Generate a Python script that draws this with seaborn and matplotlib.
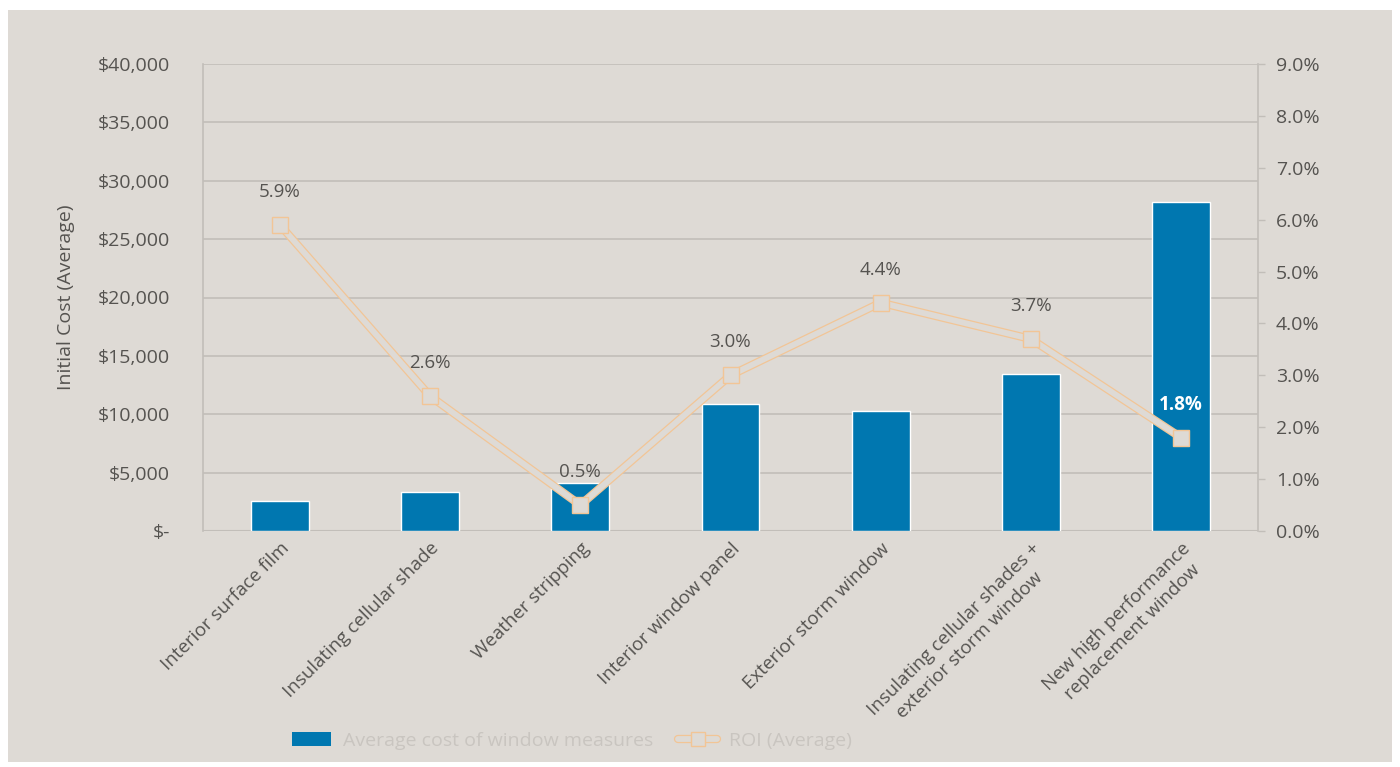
import matplotlib
matplotlib.use("Agg")
import matplotlib.pyplot as plt
import matplotlib.patheffects as pe
from matplotlib.patches import Rectangle, Patch
from matplotlib.lines import Line2D
from matplotlib.ticker import FuncFormatter, MultipleLocator
import numpy as np
import pandas as pd
import seaborn as sns

# Window retrofit measures: average upfront cost and average ROI
categories = [
    "Interior surface film",
    "Insulating cellular shade",
    "Weather stripping",
    "Interior window panel",
    "Exterior storm window",
    "Insulating cellular shades +\nexterior storm window",
    "New high performance\nreplacement window",
]
avg_cost = [2600, 3350, 4100, 10900, 10300, 13450, 28200]
roi_pct = [5.9, 2.6, 0.5, 3.0, 4.4, 3.7, 1.8]
cost_ticks = [0, 5000, 10000, 15000, 20000, 25000, 30000, 35000, 40000]

BG = "#dedad5"
BAR = "#0077b0"
ROI_EDGE = "#f2c596"
TXT = "#555350"
GRID = "#c2beb9"

sns.set_theme(style="white")
plt.rcParams["font.family"] = ["Open Sans", "DejaVu Sans"]

fig = plt.figure(figsize=(14, 7.67), dpi=100)
fig.patch.set_facecolor("white")
fig.patches.append(Rectangle((8 / 1400, 5 / 767), 1384 / 1400, 752 / 767,
                             transform=fig.transFigure, facecolor=BG,
                             edgecolor="none", zorder=-10))

ax = fig.add_axes([203 / 1400, 1 - 531 / 767, 1055 / 1400, 467 / 767])
ax.set_facecolor("none")

df = pd.DataFrame({"measure": categories, "cost": avg_cost})
sns.barplot(data=df, x="measure", y="cost", color=BAR, saturation=1,
            width=0.385, ax=ax, zorder=3)

ax.set_ylim(0, 40000)
ax.set_yticks(cost_ticks)
ax.yaxis.set_major_formatter(FuncFormatter(
    lambda v, _: "$-" if v == 0 else f"${v:,.0f}"))
ax.grid(axis="y", color=GRID, linewidth=1.2, zorder=0)
ax.set_axisbelow(True)
for s in ["top", "right", "bottom"]:
    ax.spines[s].set_visible(False)
ax.spines["left"].set_color(GRID)
ax.spines["left"].set_linewidth(1.2)
ax.tick_params(axis="y", length=0, pad=24, labelsize=14, labelcolor=TXT)
ax.tick_params(axis="x", length=0, pad=6, labelsize=13.5, labelcolor=TXT)
ax.set_xticks(range(len(categories)))
ax.set_xticklabels(categories, rotation=45, ha="right", rotation_mode="anchor",
                   multialignment="center", linespacing=1.3)
ax.set_xlabel("")
ax.set_ylabel("Initial Cost (Average)", fontsize=14, color=TXT, labelpad=16)
ax.axhline(0, color=GRID, linewidth=1.5, zorder=1)

ax2 = ax.twinx()
ax2.set_ylim(0, 9)
ax2.yaxis.set_major_locator(MultipleLocator(1))
ax2.yaxis.set_major_formatter(FuncFormatter(lambda v, _: f"{v:.1f}%"))
ax2.tick_params(axis="y", length=5, width=1, color=GRID, pad=8,
                labelsize=14, labelcolor=TXT)
for s in ["top", "left", "bottom"]:
    ax2.spines[s].set_visible(False)
ax2.spines["right"].set_color(GRID)
ax2.spines["right"].set_linewidth(1.2)
ax2.grid(False)

xpos = np.arange(len(categories))
outline = [pe.Stroke(linewidth=6, foreground=ROI_EDGE), pe.Normal()]
# hollow band for the ROI line
sns.lineplot(x=xpos, y=roi_pct, ax=ax2, color=BG, linewidth=4.2,
             zorder=5, path_effects=outline)
# square markers with a thin outline
ax2.plot(xpos, roi_pct, linestyle="none", marker="s", markersize=11,
         markerfacecolor=BG, markeredgecolor=ROI_EDGE, markeredgewidth=1.0,
         zorder=6)
ax2.set_xlim(ax.get_xlim())

for i, (x, v) in enumerate(zip(xpos, roi_pct)):
    last = i == len(roi_pct) - 1
    ax2.annotate(f"{v:.1f}%", (x, v), xytext=(0, 33), textcoords="offset pixels",
                 ha="center", va="center", fontsize=13.5,
                 color="white" if last else TXT,
                 fontweight="bold" if last else "normal", zorder=7)

roi_band = Line2D([0], [0], color=BG, linewidth=4.2,
                  path_effects=[pe.Stroke(linewidth=6, foreground=ROI_EDGE),
                                pe.Normal()])
roi_marker = Line2D([0], [0], linestyle="none", marker="s", markersize=10,
                    markerfacecolor=BG, markeredgecolor=ROI_EDGE,
                    markeredgewidth=1.0)
handles = [Patch(facecolor=BAR, edgecolor="none"), (roi_band, roi_marker)]
leg = fig.legend(handles, ["Average cost of window measures", "ROI (Average)"],
                 loc="center", bbox_to_anchor=(572 / 1400, 1 - 741 / 767),
                 ncol=2, frameon=False, fontsize=14, handlelength=2.0,
                 columnspacing=1.3, handletextpad=0.6)
for t in leg.get_texts():
    t.set_color("#c9c5c0")

fig.savefig("out.png", dpi=100, facecolor=fig.get_facecolor())
